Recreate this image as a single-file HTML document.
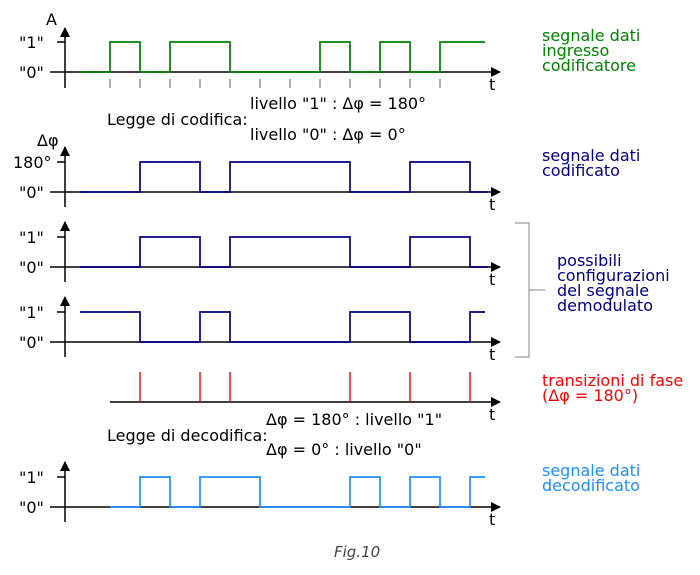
<!DOCTYPE html>
<html><head><meta charset="utf-8"><style>
html,body{margin:0;padding:0;background:#fff;width:700px;height:575px;overflow:hidden}
svg{display:block}
text{font-family:"DejaVu Sans","Liberation Sans",sans-serif;font-size:16px;fill:#000}
.g{fill:#008000}.b{fill:#000080}.r{fill:#f00}.lb{fill:#1e8fff}
</style></head><body>
<svg width="700" height="575" viewBox="0 0 700 575" xmlns="http://www.w3.org/2000/svg">
<defs>
<marker id="a" markerWidth="10" markerHeight="10" refX="9" refY="5" orient="auto" markerUnits="userSpaceOnUse"><path d="M0,0 L10,5 L0,10 z" fill="#000"/></marker>
</defs>
<g stroke="#000" stroke-width="1.5" fill="none">
<line x1="50" y1="72" x2="500" y2="72" marker-end="url(#a)"/>
<line x1="65" y1="88" x2="65" y2="28" marker-end="url(#a)"/>
<line x1="57" y1="42" x2="65" y2="42"/>
<line x1="50" y1="192" x2="500" y2="192" marker-end="url(#a)"/>
<line x1="65" y1="207" x2="65" y2="147" marker-end="url(#a)"/>
<line x1="57" y1="162" x2="65" y2="162"/>
<line x1="50" y1="267" x2="500" y2="267" marker-end="url(#a)"/>
<line x1="65" y1="282" x2="65" y2="222" marker-end="url(#a)"/>
<line x1="57" y1="237" x2="65" y2="237"/>
<line x1="50" y1="342" x2="500" y2="342" marker-end="url(#a)"/>
<line x1="65" y1="357" x2="65" y2="297" marker-end="url(#a)"/>
<line x1="57" y1="312" x2="65" y2="312"/>
<line x1="110" y1="402" x2="500" y2="402" marker-end="url(#a)"/>
<line x1="50" y1="507" x2="500" y2="507" marker-end="url(#a)"/>
<line x1="65" y1="522" x2="65" y2="462" marker-end="url(#a)"/>
<line x1="57" y1="477" x2="65" y2="477"/>
</g>
<g stroke="#777" stroke-width="1.2">
<line x1="110" y1="79" x2="110" y2="88"/><line x1="140" y1="79" x2="140" y2="88"/><line x1="170" y1="79" x2="170" y2="88"/><line x1="200" y1="79" x2="200" y2="88"/><line x1="230" y1="79" x2="230" y2="88"/><line x1="260" y1="79" x2="260" y2="88"/><line x1="290" y1="79" x2="290" y2="88"/><line x1="320" y1="79" x2="320" y2="88"/><line x1="350" y1="79" x2="350" y2="88"/><line x1="380" y1="79" x2="380" y2="88"/><line x1="410" y1="79" x2="410" y2="88"/><line x1="440" y1="79" x2="440" y2="88"/>
</g>
<g fill="none" stroke-width="1.7">
<polyline stroke="#008000" points="80,72 110,72 110,42 140,42 140,72 170,72 170,42 230,42 230,72 320,72 320,42 350,42 350,72 380,72 380,42 410,42 410,72 440,72 440,42 485,42"/>
<polyline stroke="#000080" points="80,192 140,192 140,162 200,162 200,192 230,192 230,162 350,162 350,192 410,192 410,162 470,162 470,192 488,192"/>
<polyline stroke="#000080" points="80,267 140,267 140,237 200,237 200,267 230,267 230,237 350,237 350,267 410,267 410,237 470,237 470,267 488,267"/>
<polyline stroke="#000080" points="80,312 140,312 140,342 200,342 200,312 230,312 230,342 350,342 350,312 410,312 410,342 470,342 470,312 485,312"/>
<polyline stroke="#1e8fff" points="110,507 140,507 140,477 170,477 170,507 200,507 200,477 260,477 260,507 350,507 350,477 380,477 380,507 410,507 410,477 440,477 440,507 470,507 470,477 485,477"/>
</g>
<g stroke="#f00" stroke-width="1.4">
<line x1="140" y1="372" x2="140" y2="402"/><line x1="200" y1="372" x2="200" y2="402"/><line x1="230" y1="372" x2="230" y2="402"/><line x1="350" y1="372" x2="350" y2="402"/><line x1="410" y1="372" x2="410" y2="402"/><line x1="470" y1="372" x2="470" y2="402"/>
</g>
<g stroke="#999" stroke-width="1.2" fill="none">
<polyline points="515,223 529,223 529,357 515,357"/>
<line x1="529" y1="290" x2="545" y2="290"/>
</g>
<text x="46" y="25">A</text>
<text x="19" y="48">"1"</text>
<text x="19" y="78">"0"</text>
<text x="489" y="90">t</text>
<text x="250" y="109">livello "1" : Δφ = 180°</text>
<text x="107" y="125">Legge di codifica:</text>
<text x="250" y="140">livello "0" : Δφ = 0°</text>
<text x="37" y="146">Δφ</text>
<text x="13" y="168">180°</text>
<text x="19" y="198">"0"</text>
<text x="489" y="210">t</text>
<text x="19" y="243">"1"</text>
<text x="19" y="273">"0"</text>
<text x="489" y="285">t</text>
<text x="19" y="318">"1"</text>
<text x="19" y="348">"0"</text>
<text x="489" y="360">t</text>
<text x="489" y="420">t</text>
<text x="266" y="425">Δφ = 180° : livello "1"</text>
<text x="107" y="441">Legge di decodifica:</text>
<text x="266" y="455">Δφ = 0° : livello "0"</text>
<text x="19" y="483">"1"</text>
<text x="19" y="513">"0"</text>
<text x="489" y="525">t</text>
<text class="g" x="542" y="41">segnale dati</text>
<text class="g" x="542" y="56">ingresso</text>
<text class="g" x="542" y="71">codificatore</text>
<text class="b" x="542" y="161">segnale dati</text>
<text class="b" x="542" y="176">codificato</text>
<text class="b" x="557" y="266">possibili</text>
<text class="b" x="557" y="281">configurazioni</text>
<text class="b" x="557" y="296">del segnale</text>
<text class="b" x="557" y="311">demodulato</text>
<text class="r" x="542" y="386">transizioni di fase</text>
<text class="r" x="542" y="401">(Δφ = 180°)</text>
<text class="lb" x="542" y="476">segnale dati</text>
<text class="lb" x="542" y="491">decodificato</text>
<text x="334" y="557" style="font-style:italic;font-size:15px;fill:#444">Fig.10</text>
</svg>
</body></html>
